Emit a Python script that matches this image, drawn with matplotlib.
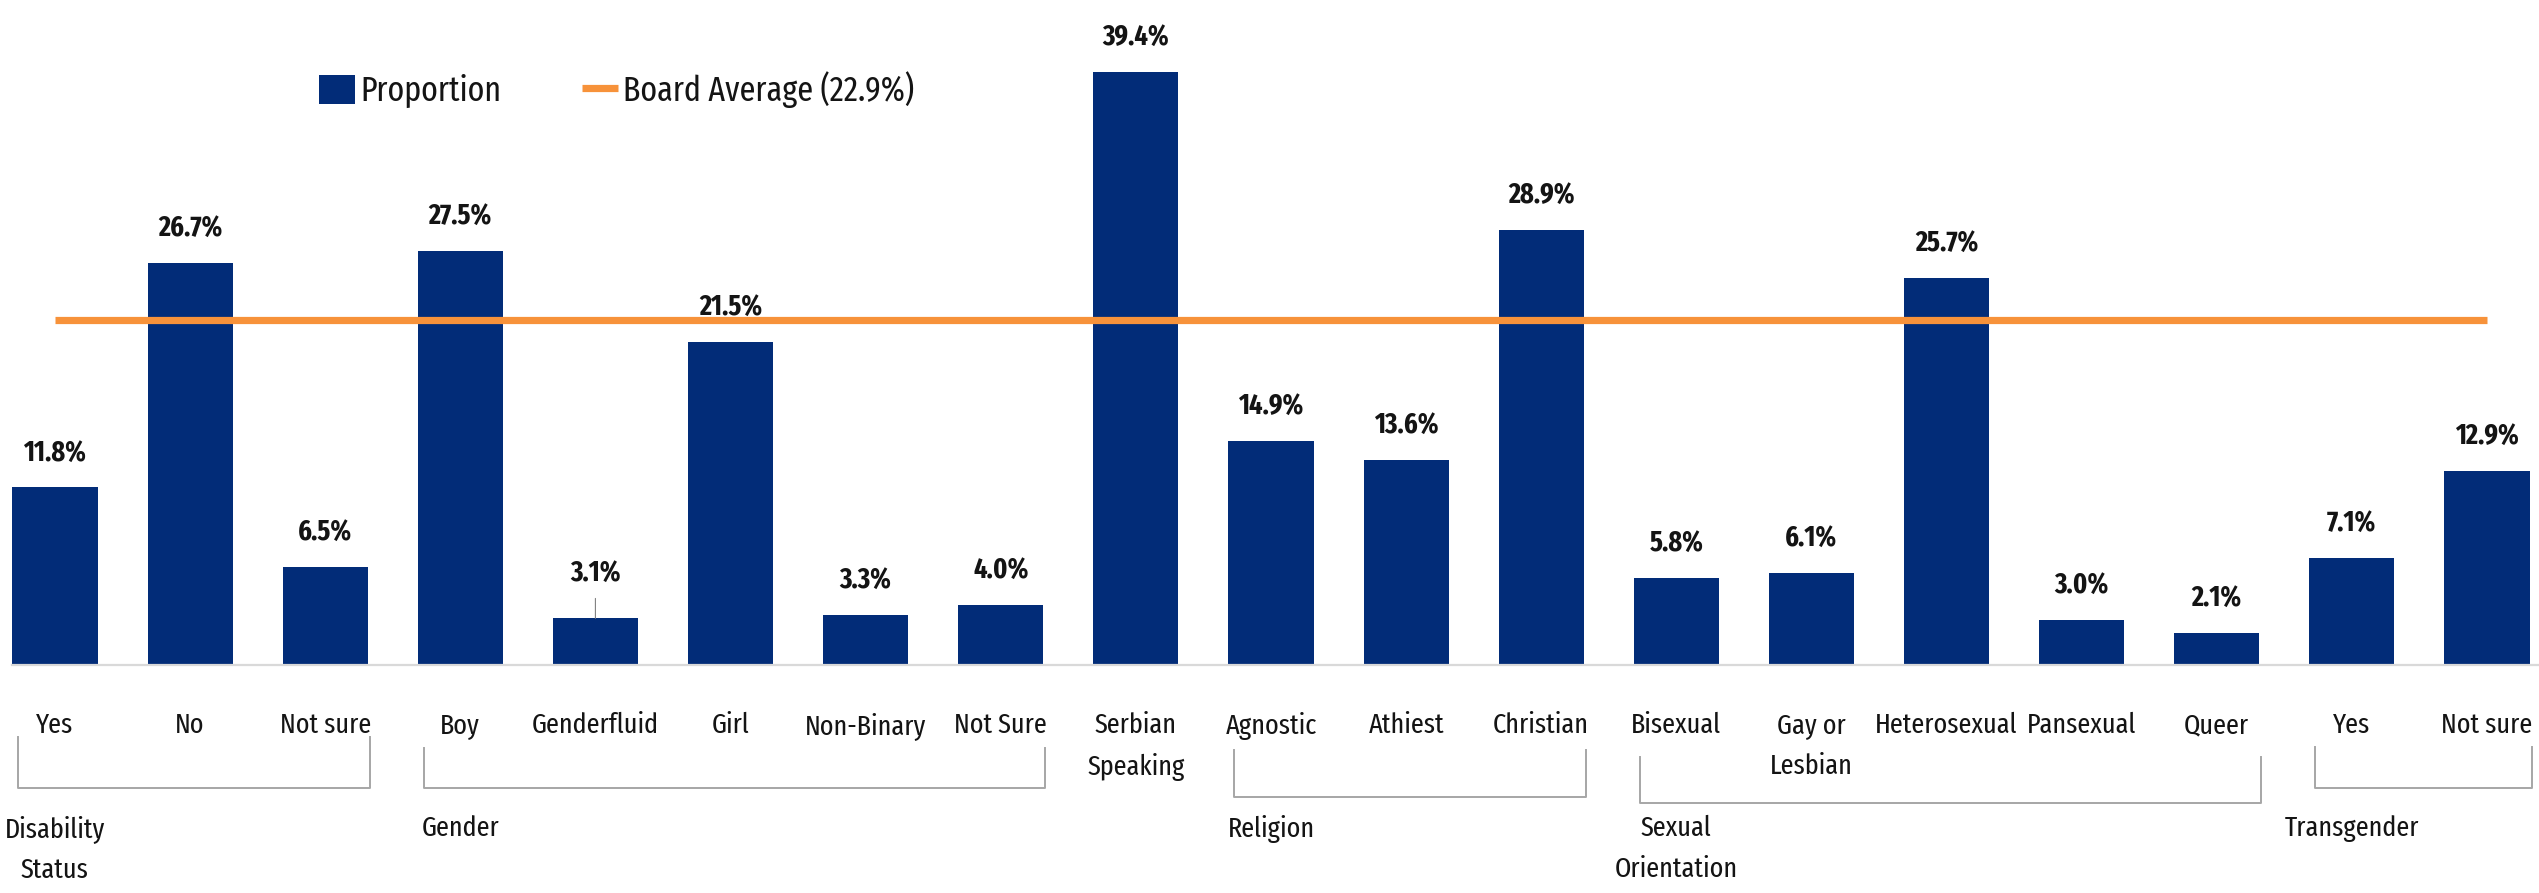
#!/usr/bin/env python
"""Proportion by demographic group, with the board average as a reference line."""

import matplotlib
matplotlib.use("Agg")
import matplotlib.pyplot as plt
import matplotlib.transforms as mtransforms
from matplotlib import font_manager
from matplotlib.lines import Line2D
from matplotlib.patches import Patch

# ── data ──
categories = [
    "Yes", "No", "Not sure",
    "Boy", "Genderfluid", "Girl", "Non-Binary", "Not Sure",
    "Serbian\nSpeaking",
    "Agnostic", "Athiest", "Christian",
    "Bisexual", "Gay or\nLesbian", "Heterosexual", "Pansexual", "Queer",
    "Yes", "Not sure",
]
proportion = [11.8, 26.7, 6.5, 27.5, 3.1, 21.5, 3.3, 4.0, 39.4, 14.9, 13.6,
              28.9, 5.8, 6.1, 25.7, 3.0, 2.1, 7.1, 12.9]
board_average = 22.9

# groups: (label, first index, last index)
group_labels = ["Disability\nStatus", "Gender", "Religion",
                "Sexual\nOrientation", "Transgender"]
group_start = [0, 3, 9, 12, 17]
group_end = [2, 7, 11, 16, 18]

# ── style ──
BAR_COLOR = "#022C78"
LINE_COLOR = "#F7923A"
BRACKET_COLOR = "#A6A6A6"
TEXT_COLOR = "#141414"

names = {f.name for f in font_manager.fontManager.ttflist}
if "Fira Sans Extra Condensed" in names:
    FONT = "Fira Sans Extra Condensed"
    CAT_SIZE, VAL_SIZE, LEG_SIZE = 20.5, 20.5, 25
else:
    FONT = "DejaVu Sans"
    plt.rcParams["font.stretch"] = "condensed"
    CAT_SIZE, VAL_SIZE, LEG_SIZE = 17.5, 18, 21
plt.rcParams["font.family"] = [FONT, "DejaVu Sans"]

W, H = 2539, 893
fig = plt.figure(figsize=(W / 100, H / 100), dpi=100)
base_px = 665
ax = fig.add_axes([12 / W, (H - base_px) / H, 1 - 12 / W, base_px / H])

x = list(range(len(categories)))
ax.bar(x, proportion, width=0.63, color=BAR_COLOR, zorder=2)
ax.hlines(board_average, x[0], x[-1], color=LINE_COLOR, lw=5.2, zorder=3,
          capstyle="butt")

ax.set_xlim(-0.318, 18.385)
ax.set_ylim(0, 44.2)

for s in ("top", "left", "right"):
    ax.spines[s].set_visible(False)
ax.spines["bottom"].set_color("#D9D9D9")
ax.spines["bottom"].set_linewidth(1.6)
ax.set_yticks([])
ax.set_xticks(x)
ax.set_xticklabels(categories, fontsize=CAT_SIZE, linespacing=1.65, color=TEXT_COLOR)
ax.tick_params(axis="x", length=0, pad=34)

# value labels (Genderfluid label sits higher with a leader line)
for i, v in enumerate(proportion):
    if categories[i] == "Genderfluid":
        ax.annotate(f"{v:.1f}%", (i, v), xytext=(0, 27), textcoords="offset points",
                    ha="center", va="baseline", fontsize=VAL_SIZE, fontweight="bold",
                    color=TEXT_COLOR,
                    arrowprops=dict(arrowstyle="-", color="#808080", lw=0.8,
                                    shrinkA=6, shrinkB=0))
    else:
        ax.annotate(f"{v:.1f}%", (i, v), xytext=(0, 19.5), textcoords="offset points",
                    ha="center", va="baseline", fontsize=VAL_SIZE, fontweight="bold",
                    color=TEXT_COLOR)

# group brackets and labels
blend = mtransforms.blended_transform_factory(ax.transData, fig.transFigure)
bracket_top = [737, 748, 750, 757, 747]
bracket_bottom = [788, 788, 797, 803, 788]
for lab, a, b, t, btm in zip(group_labels, group_start, group_end,
                             bracket_top, bracket_bottom):
    x0, x1 = a - 0.27, min(b + 0.33, 18.6)
    ax.plot([x0, x0, x1, x1], [1 - t / H, 1 - btm / H, 1 - btm / H, 1 - t / H],
            transform=blend, color=BRACKET_COLOR, lw=1.4, clip_on=False)
    ax.text(a, 1 - 815 / H, lab, transform=blend, ha="center", va="top",
            fontsize=CAT_SIZE, linespacing=1.65, color=TEXT_COLOR)

# legend
handles = [Patch(facecolor=BAR_COLOR, edgecolor="none"),
           Line2D([], [], color=LINE_COLOR, lw=5.2, solid_capstyle="butt")]
fig.legend(handles, ["Proportion", f"Board Average ({board_average}%)"],
           loc="center left", bbox_to_anchor=(319 / W, 1 - 90 / H), ncol=2,
           frameon=False, fontsize=LEG_SIZE, handlelength=1.05, handleheight=0.9,
           handletextpad=0.15, columnspacing=2.3, borderpad=0, borderaxespad=0,
           labelcolor=TEXT_COLOR)

fig.savefig("out.png", dpi=100)
plt.close(fig)
